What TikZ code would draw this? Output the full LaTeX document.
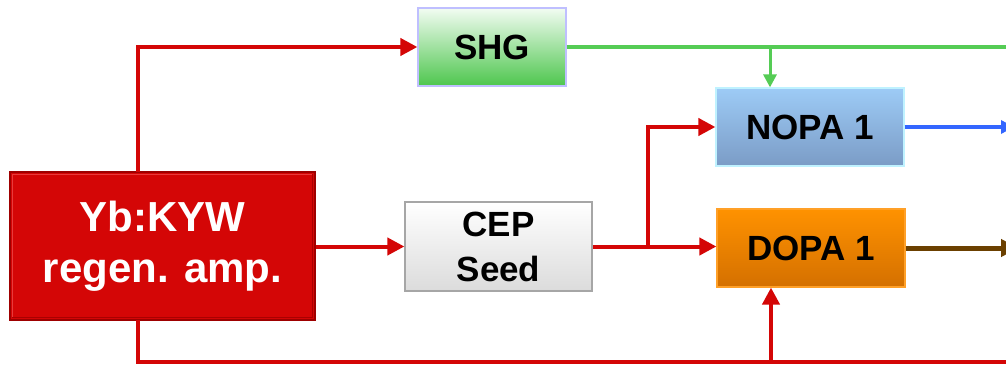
\documentclass[tikz,border=0pt]{standalone}
\usepackage{fontspec}
\setmainfont{Liberation Sans}
\usetikzlibrary{arrows.meta}
\definecolor{laser}{HTML}{D40606}
\definecolor{laserdark}{HTML}{9E0000}
\definecolor{laserlight}{HTML}{E83A3A}
\definecolor{shgline}{HTML}{55CC55}
\definecolor{shgtop}{HTML}{F2FCF2}
\definecolor{shgmid}{HTML}{5CCF5C}
\definecolor{shgbot}{HTML}{4EC64E}
\definecolor{nopaline}{HTML}{3366FF}
\definecolor{dopaline}{HTML}{6B4000}
\tikzset{
  box/.style={draw, line width=1.2pt, inner sep=0pt, align=center,
    font=\bfseries\fontsize{35}{45}\selectfont},
  beam/.style={line width=4pt, laser},
  tip/.style={-{Triangle[length=17pt,width=17pt]}},
  smalltip/.style={-{Triangle[length=13pt,width=13pt]}}
}
\begin{document}
\begin{tikzpicture}[x=1pt,y=-1pt]
  \clip (0,0) rectangle (1006,366);
  \useasboundingbox (0,0) rectangle (1006,366);
  \fill[white] (0,0) rectangle (1006,366);

  % source, with a bevelled rim
  \node[box, draw=laserdark, fill=laser, text=white,
        minimum width=305pt, minimum height=148pt,
        font=\bfseries\fontsize{42}{51}\selectfont]
    (yb) at (162.5,246) {Yb:KYW\\regen. amp.};
  \draw[laserlight, line width=1.5pt]
    ([shift={(3,-3)}]yb.south west) |- ([shift={(-3,3)}]yb.north east);
  \draw[laserdark!80!laser, line width=1.5pt]
    ([shift={(3,-3)}]yb.south west) -| ([shift={(-3,3)}]yb.north east);
  % second harmonic
  \node[box, draw=blue!25, top color=shgtop, middle color=shgmid,
        bottom color=shgbot, minimum width=148pt, minimum height=78pt]
    (shg) at (492,47) {SHG};
  % seed
  \node[box, draw=gray!70, top color=white, bottom color=gray!28,
        minimum width=187pt, minimum height=89pt]
    (cep) at (498.5,246.5) {CEP\\Seed};
  % amplifiers
  \node[box, draw=blue!20!cyan!25, top color={rgb,255:red,157;green,203;blue,246},
        bottom color={rgb,255:red,123;green,156;blue,198},
        minimum width=188pt, minimum height=78pt]
    (nopa) at (810,127) {NOPA 1};
  \node[box, draw={rgb,255:red,255;green,160;blue,40}, top color={rgb,255:red,255;green,146;blue,0},
        bottom color={rgb,255:red,212;green,112;blue,0},
        minimum width=188pt, minimum height=78pt]
    (dopa) at (811,248) {DOPA 1};

  % fixed points of the beam paths
  \coordinate (up) at (138,172);
  \coordinate (down) at (138,320);
  \coordinate (split) at (648,246.5);
  \coordinate (green) at (770,47);
  \coordinate (pump) at (771,362);
  \coordinate (edge) at (1020,0);

  % fundamental beams
  \draw[beam, tip] (up) |- (shg.west);
  \draw[beam, tip] (yb.east |- cep.west) -- (cep.west);
  \draw[beam, tip] (cep.east) -- (cep.east -| dopa.west);
  \draw[beam, tip] (split) |- (nopa.west);
  \draw[beam] (down) |- (pump -| edge);
  \draw[beam, tip] (pump) -- (pump |- dopa.south);

  % second harmonic beam
  \draw[line width=4pt, shgline] (shg.east) -- (shg.east -| edge);
  \draw[line width=3pt, shgline, smalltip] (green) -- (green |- nopa.north);

  % outputs
  \draw[line width=4pt, nopaline, smalltip] (nopa.east) -- (nopa.east -| 1014,0);
  \draw[line width=5pt, dopaline, tip] (dopa.east) -- (dopa.east -| 1018,0);
\end{tikzpicture}
\end{document}
